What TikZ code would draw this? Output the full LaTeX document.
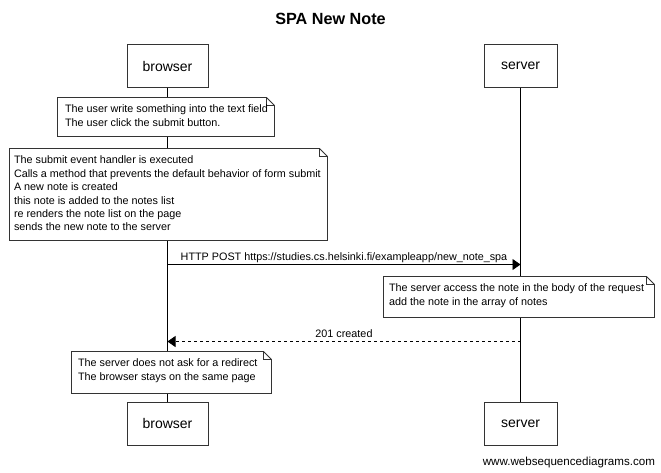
\documentclass[tikz,border=0pt]{standalone}
\usepackage{fontspec}
\setmainfont{Liberation Sans}
\usetikzlibrary{arrows.meta,calc}
\begin{document}
\begin{tikzpicture}[x=1pt,y=-1pt,
  every node/.style={inner sep=0pt, outer sep=0pt},
  actor/.style={draw=black!80, fill=white, line width=0.9pt, minimum width=81pt, minimum height=43pt, font=\fontsize{14}{16}\selectfont},
  notetext/.style={align=left, font=\fontsize{10.8}{13.4}\selectfont, anchor=north west},
  notebox/.style={draw=black!80, fill=white, line width=0.8pt},
  lifeline/.style={draw=black, line width=0.8pt},
  msg/.style={draw=black, line width=0.8pt, -{Triangle[length=8pt,width=11pt]}},
  msglabel/.style={font=\fontsize{10.8}{12}\selectfont, anchor=base}
]
\useasboundingbox (0,0) rectangle (661,472);

% title
\node[font=\bfseries\fontsize{16.2}{18}\selectfont] (title) at (330.5,19) {SPA New Note};

% participants
\node[actor] (bt) at (167.5,66) {browser};
\node[actor, minimum width=73pt] (st) at (520.5,66) {server};
\node[actor] (bb) at (167.5,423.5) {browser};
\node[actor, minimum width=73pt] (sb) at (520.5,423.5) {server};

% lifelines
\draw[lifeline] (bt.south) -- (bb.north);
\draw[lifeline] (st.south) -- (sb.north);

% folded-corner note outline between two corner coordinates
\newcommand{\notebox}[2]{%
  \draw[notebox] (#1) -- ($(#2 |- #1)+(-8,0)$) -- ($(#2 |- #1)+(0,8)$) -- (#2) -- (#1 |- #2) -- cycle;
  \draw[notebox, fill=none] ($(#2 |- #1)+(-8,0)$) -- ($(#2 |- #1)+(-8,8)$) -- ($(#2 |- #1)+(0,8)$);
}

% note 1
\coordinate (n1a) at (57.5,97.5);
\coordinate (n1b) at (274.5,136.5);
\notebox{n1a}{n1b}
\node[notetext] (n1) at (65,105) {The user write something into the text field\\The user click the submit button.};

% note 2
\coordinate (n2a) at (9.5,148.5);
\coordinate (n2b) at (327.5,240.5);
\notebox{n2a}{n2b}
\node[notetext] (n2) at (14,156) {The submit event handler is executed\\Calls a method that prevents the default behavior of form submit\\A new note is created\\this note is added to the notes list\\re renders the note list on the page\\sends the new note to the server};

% request
\coordinate (m1s) at (bt.south |- 0,264.5);
\coordinate (m1e) at (st.south |- 0,264.5);
\draw[msg] (m1s) -- (m1e);
\node[msglabel] (m1l) at ($(m1s)!0.5!(m1e)+(0,-4)$) {HTTP POST https://studies.cs.helsinki.fi/exampleapp/new\_note\_spa};

% note 3
\coordinate (n3a) at (383.5,276.5);
\coordinate (n3b) at (654.5,317.5);
\notebox{n3a}{n3b}
\node[notetext] (n3) at (389,284) {The server access the note in the body of the request\\add the note in the array of notes};

% response
\coordinate (m2s) at (st.south |- 0,341.5);
\coordinate (m2e) at (bt.south |- 0,341.5);
\draw[msg, dashed] (m2s) -- (m2e);
\node[msglabel] (m2l) at ($(m2s)!0.5!(m2e)+(0,-4)$) {201 created};

% note 4
\coordinate (n4a) at (71.5,351.5);
\coordinate (n4b) at (271.5,393.5);
\notebox{n4a}{n4b}
\node[notetext] (n4) at (78,359) {The server does not ask for a redirect\\The browser stays on the same page};

% footer
\node[font=\fontsize{11.6}{13}\selectfont, anchor=base east] (foot) at (655,465) {www.websequencediagrams.com};
\end{tikzpicture}
\end{document}
